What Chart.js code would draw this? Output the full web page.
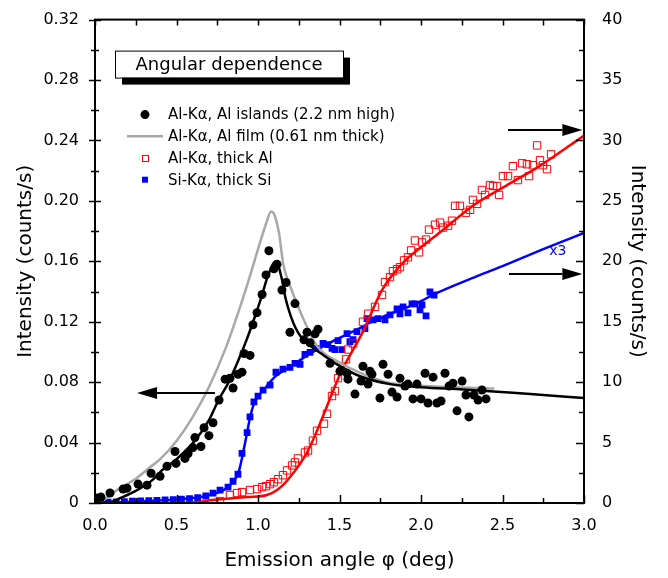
<!DOCTYPE html>
<html>
<head>
<meta charset="utf-8">
<script src="https://cdn.jsdelivr.net/npm/chart.js@4.4.1/dist/chart.umd.min.js"></script>
<style>
  html, body { margin: 0; padding: 0; background: #fff; }
  #wrap { width: 668px; height: 578px; }
</style>
</head>
<body>
<div id="wrap"><canvas id="angChart" width="668" height="578"></canvas></div>
<script>
// emission angle (deg) vs intensity, [x, y] pairs

// Al-Kα, Al islands (2.2 nm high) - left axis (counts/s)
var alIslands = [
  [0.012,0.0033],[0.037,0.0039],[0.092,0.0066],[0.172,0.0092],[0.196,0.0098],[0.264,0.0125],
  [0.319,0.0118],[0.344,0.0197],[0.399,0.0177],[0.442,0.0243],[0.491,0.0341],[0.497,0.0262],
  [0.552,0.0295],[0.571,0.0328],[0.601,0.0367],[0.613,0.0433],[0.650,0.0374],[0.669,0.0498],
  [0.699,0.0446],[0.724,0.0531],[0.761,0.0682],[0.798,0.0820],[0.828,0.0826],[0.847,0.0761],
  [0.877,0.0852],[0.902,0.0866],[0.914,0.0990],[0.951,0.0977],[0.969,0.118],[0.994,0.126],
  [1.025,0.138],[1.049,0.151],[1.067,0.167],[1.098,0.155],[1.117,0.158],[1.147,0.141],
  [1.172,0.146],[1.196,0.113],[1.227,0.132],[1.282,0.108],[1.301,0.113],[1.319,0.106],
  [1.350,0.112],[1.368,0.115],[1.442,0.0925],[1.503,0.0872],[1.546,0.0859],[1.552,0.0820],
  [1.595,0.0721],[1.632,0.0807],[1.644,0.0905],[1.675,0.0787],[1.687,0.0872],[1.699,0.0852],
  [1.748,0.0695],[1.767,0.0918],[1.798,0.0852],[1.822,0.0734],[1.853,0.0702],[1.871,0.0826],
  [1.902,0.0774],[1.920,0.0787],[1.951,0.0689],[1.975,0.0787],[2.000,0.0689],[2.025,0.0859],
  [2.043,0.0662],[2.074,0.0833],[2.098,0.0662],[2.123,0.0675],[2.147,0.0859],[2.172,0.0774],
  [2.196,0.0793],[2.221,0.0610],[2.252,0.0807],[2.276,0.0715],[2.294,0.0570],[2.325,0.0715],
  [2.350,0.0682],[2.374,0.0748],[2.399,0.0689]
];
var alIslandsFit = [
  [0,0],[0.1,0.0008],[0.15,0.003],[0.25,0.008],[0.35,0.015],[0.41,0.0216],[0.5,0.029],
  [0.613,0.0413],[0.7,0.055],[0.755,0.0675],[0.82,0.080],[0.877,0.0938],[0.93,0.108],
  [0.97,0.120],[1.02,0.136],[1.06,0.150],[1.11,0.160],[1.147,0.148],[1.17,0.135],
  [1.2,0.124],[1.23,0.116],[1.27,0.109],[1.32,0.104],[1.4,0.098],[1.485,0.0918],
  [1.626,0.0839],[1.81,0.0787],[2.0,0.0767],[2.26,0.0752],[2.67,0.0721],[3.0,0.0695]
];
// Al-Kα, Al film (0.61 nm thick) - left axis
var alFilm = [
  [0,0],[0.031,0.0007],[0.135,0.0085],[0.25,0.016],[0.337,0.0236],[0.4,0.029],[0.5,0.041],
  [0.6,0.057],[0.7,0.077],[0.8,0.102],[0.9,0.133],[0.95,0.150],[1.0,0.168],[1.05,0.185],
  [1.08,0.193],[1.1,0.191],[1.13,0.178],[1.155,0.158],[1.196,0.144],[1.258,0.127],
  [1.362,0.104],[1.5,0.093],[1.65,0.0852],[1.8,0.0797],[2.0,0.0777],[2.45,0.0758]
];
// Al-Kα, thick Al - right axis
var thickAl = [
  [0.767,0.16],[0.828,0.66],[0.871,0.82],[0.902,0.90],[0.951,1.07],[0.994,1.15],[1.025,1.31],
  [1.049,1.39],[1.074,1.56],[1.098,1.72],[1.123,1.97],[1.153,2.30],[1.178,2.70],[1.209,3.11],
  [1.227,3.36],[1.245,3.69],[1.288,4.18],[1.307,4.34],[1.337,5.16],[1.362,5.98],[1.405,6.56],
  [1.423,7.38],[1.454,8.85],[1.472,9.26],[1.491,10.33],[1.540,11.89],[1.552,12.70],[1.583,13.20],
  [1.644,15.00],[1.675,15.66],[1.718,16.23],[1.761,17.21],[1.779,18.28],[1.810,18.69],
  [1.828,19.18],[1.853,19.34],[1.871,19.51],[1.896,20.08],[1.920,20.33],[1.939,20.90],
  [1.963,21.72],[1.988,20.74],[2.006,21.56],[2.031,21.80],[2.049,22.62],[2.086,23.03],
  [2.117,23.20],[2.135,22.79],[2.166,22.95],[2.190,23.36],[2.209,24.59],[2.239,24.59],
  [2.276,24.02],[2.301,24.26],[2.319,25.08],[2.344,24.75],[2.374,25.90],[2.393,25.49],
  [2.423,26.31],[2.442,26.23],[2.466,26.23],[2.479,25.49],[2.503,27.05],[2.534,27.05],
  [2.564,27.87],[2.595,26.72],[2.620,28.11],[2.650,28.03],[2.663,27.05],[2.687,27.95],
  [2.712,29.59],[2.730,28.36],[2.748,27.95],[2.773,27.62],[2.798,28.85]
];
var thickAlFit = [
  [0.5,0],[0.626,0.08],[0.724,0.25],[0.933,0.49],[1.055,0.66],[1.117,1.07],[1.196,2.13],
  [1.301,4.18],[1.38,6.56],[1.485,10.08],[1.521,11.15],[1.644,14.18],[1.76,17.6],[1.87,19.6],
  [1.975,20.9],[2.117,22.4],[2.319,24.6],[2.528,26.3],[2.73,27.9],[3.0,30.4]
];
// Si-Kα, thick Si - right axis
var thickSi = [
  [0.03,0.05],[0.08,0.08],[0.13,0.10],[0.18,0.12],[0.23,0.15],[0.28,0.17],[0.33,0.20],
  [0.38,0.22],[0.43,0.25],[0.48,0.28],[0.53,0.32],[0.58,0.37],[0.63,0.45],[0.68,0.58],
  [0.724,0.82],[0.767,1.07],[0.816,1.31],[0.847,1.80],[0.877,2.38],[0.902,4.10],[0.933,5.82],
  [0.951,7.13],[0.975,8.36],[1.000,8.85],[1.031,9.34],[1.074,9.75],[1.110,10.82],[1.153,11.07],
  [1.196,11.23],[1.227,11.56],[1.258,11.48],[1.288,12.30],[1.319,12.46],[1.356,12.79],
  [1.399,13.20],[1.429,13.11],[1.454,12.79],[1.472,12.70],[1.491,13.44],[1.515,12.70],
  [1.546,14.02],[1.564,13.36],[1.583,13.52],[1.607,14.18],[1.656,14.43],[1.669,15.25],
  [1.706,15.16],[1.736,15.25],[1.779,15.16],[1.810,15.57],[1.853,16.07],[1.871,15.66],
  [1.890,16.23],[1.920,15.74],[1.945,16.48],[1.963,16.48],[1.994,15.98],[2.006,16.39],
  [2.031,15.49],[2.055,17.46],[2.080,17.21]
];
var thickSiFit = [
  [0,0],[0.3,0.15],[0.5,0.3],[0.65,0.5],[0.75,0.85],[0.8,1.15],[0.85,1.8],[0.88,2.5],
  [0.9,3.6],[0.93,5.6],[0.95,7.0],[0.975,8.2],[1.0,8.8],[1.05,9.6],[1.1,10.4],[1.15,10.9],
  [1.2,11.3],[1.3,12.2],[1.4,12.95],[1.46,13.4],[1.6,14.3],[1.7,15.0],[1.8,15.6],[1.9,16.1],
  [2.0,16.7],[2.07,17.2],[2.36,18.85],[2.5,19.6],[2.75,21.0],[3.0,22.35]
];

// arrows telling which axis belongs to which curve: [from x, to x, at y, axis]
var axisArrows = [[0.736, 0.258, 0.0728, 'y'], [2.534, 2.99, 30.9, 'y2'], [2.54, 2.99, 18.93, 'y2']];

var FONT = 'DejaVu Sans';

function pts(arr) {
  return arr.map(function (p) { return { x: p[0], y: p[1] }; });
}

function drawArrow(ctx, x0, x1, y) {
  var dir = x1 > x0 ? 1 : -1;
  var head = 20;
  ctx.strokeStyle = '#000';
  ctx.lineWidth = 2;
  ctx.beginPath();
  ctx.moveTo(x0, y);
  ctx.lineTo(x1 - dir * head, y);
  ctx.stroke();
  ctx.fillStyle = '#000';
  ctx.beginPath();
  ctx.moveTo(x1, y);
  ctx.lineTo(x1 - dir * head, y - 6);
  ctx.lineTo(x1 - dir * head, y + 6);
  ctx.closePath();
  ctx.fill();
}

var framePlugin = {
  id: 'frame',
  afterDraw: function (chart) {
    var ctx = chart.ctx, a = chart.chartArea;
    var sx = chart.scales.x, sy = chart.scales.y, sy2 = chart.scales.y2;
    ctx.save();
    ctx.strokeStyle = '#000';
    ctx.lineWidth = 2;
    ctx.strokeRect(a.left, a.top, a.right - a.left, a.bottom - a.top);

    ctx.lineWidth = 1.5;
    ctx.beginPath();
    var v, p, len;
    for (v = 0; v <= 3.0001; v += 0.25) {
      p = Math.round(sx.getPixelForValue(v)) + 0.5;
      len = (Math.round(v * 4) % 2 === 0) ? 8 : 5;
      ctx.moveTo(p, a.bottom); ctx.lineTo(p, a.bottom - len);
      ctx.moveTo(p, a.top); ctx.lineTo(p, a.top + 6);
    }
    for (v = 0; v <= 0.3201; v += 0.02) {
      p = Math.round(sy.getPixelForValue(v)) + 0.5;
      len = (Math.round(v * 50) % 2 === 0) ? 6 : 4;
      ctx.moveTo(a.left - len, p); ctx.lineTo(a.left + len, p);
    }
    for (v = 0; v <= 40.001; v += 2.5) {
      p = Math.round(sy2.getPixelForValue(v)) + 0.5;
      len = (Math.round(v * 2) % 2 === 0) ? 8 : 5;
      ctx.moveTo(a.right, p); ctx.lineTo(a.right - len, p);
    }
    ctx.stroke();

    // arrows
    axisArrows.forEach(function (ar) {
      var sc = chart.scales[ar[3]];
      drawArrow(ctx, sx.getPixelForValue(ar[0]), sx.getPixelForValue(ar[1]), Math.round(sc.getPixelForValue(ar[2])));
    });

    // x3 note on the Si curve
    ctx.fillStyle = '#0000ff';
    ctx.font = '14px "' + FONT + '"';
    ctx.textAlign = 'center';
    ctx.textBaseline = 'middle';
    ctx.fillText('x3', sx.getPixelForValue(2.84), sy2.getPixelForValue(20.8));

    // title box with shadow
    var bx = a.left + 20, by = a.top + 31, bw = 228, bh = 27;
    ctx.fillStyle = '#000';
    ctx.fillRect(bx + 7, by + 7, bw, bh);
    ctx.fillStyle = '#fff';
    ctx.fillRect(bx, by, bw, bh);
    ctx.strokeStyle = '#000';
    ctx.lineWidth = 1;
    ctx.strokeRect(bx + 0.5, by + 0.5, bw, bh);
    ctx.fillStyle = '#000';
    ctx.font = '18px "' + FONT + '"';
    ctx.fillText('Angular dependence', bx + bw / 2, by + bh / 2 + 1);

    // legend
    var rows = [0, 2, 3, 5];
    var lx = a.left + 50, ty = a.top + 95;
    ctx.font = '15px "' + FONT + '"';
    ctx.textAlign = 'left';
    rows.forEach(function (idx, i) {
      var ds = chart.data.datasets[idx];
      var y = ty + i * 21.7;
      if (ds.showLine) {
        ctx.strokeStyle = ds.borderColor;
        ctx.lineWidth = ds.borderWidth;
        ctx.beginPath();
        ctx.moveTo(lx - 18, y); ctx.lineTo(lx + 18, y);
        ctx.stroke();
      } else if (ds.pointStyle === 'circle') {
        ctx.fillStyle = ds.backgroundColor;
        ctx.beginPath();
        ctx.arc(lx, y, 4.5, 0, Math.PI * 2);
        ctx.fill();
      } else if (ds.backgroundColor !== 'transparent') {
        ctx.fillStyle = ds.backgroundColor;
        ctx.fillRect(lx - 3, y - 3, 6, 6);
      } else {
        ctx.strokeStyle = ds.borderColor;
        ctx.lineWidth = 1;
        ctx.strokeRect(lx - 2.5, y - 2.5, 6, 6);
      }
      ctx.fillStyle = '#000';
      ctx.fillText(ds.label, lx + 23, y + 1);
    });
    ctx.restore();
  }
};

var ctx = document.getElementById('angChart').getContext('2d');
new Chart(ctx, {
  type: 'scatter',
  data: {
    datasets: [
      { label: 'Al-K\u03b1, Al islands (2.2 nm high)', data: pts(alIslands), yAxisID: 'y', showLine: false,
        pointStyle: 'circle', pointRadius: 4.5, backgroundColor: '#000', borderColor: '#000', borderWidth: 0, order: 1 },
      { label: 'islands fit', data: pts(alIslandsFit), yAxisID: 'y', showLine: true, pointRadius: 0,
        borderColor: '#000', borderWidth: 2.5, cubicInterpolationMode: 'monotone', order: 2 },
      { label: 'Al-K\u03b1, Al film (0.61 nm thick)', data: pts(alFilm), yAxisID: 'y', showLine: true, pointRadius: 0,
        borderColor: '#a8a8a8', borderWidth: 2.5, cubicInterpolationMode: 'monotone', order: 3 },
      { label: 'Al-K\u03b1, thick Al', data: pts(thickAl), yAxisID: 'y2', showLine: false,
        pointStyle: 'rect', pointRadius: 5.2, backgroundColor: 'transparent', borderColor: '#ff0000', borderWidth: 1, order: 5 },
      { label: 'thick Al fit', data: pts(thickAlFit), yAxisID: 'y2', showLine: true, pointRadius: 0,
        borderColor: '#ff0000', borderWidth: 2.5, cubicInterpolationMode: 'monotone', order: 4 },
      { label: 'Si-K\u03b1, thick Si', data: pts(thickSi), yAxisID: 'y2', showLine: false,
        pointStyle: 'rect', pointRadius: 4.8, backgroundColor: '#0000ff', borderColor: '#0000ff', borderWidth: 0, order: 7 },
      { label: 'thick Si fit', data: pts(thickSiFit), yAxisID: 'y2', showLine: true, pointRadius: 0,
        borderColor: '#0000ff', borderWidth: 2.5, cubicInterpolationMode: 'monotone', order: 6 }
    ]
  },
  options: {
    responsive: false,
    animation: false,
    events: [],
    layout: { padding: { top: 15, left: 0, right: 0, bottom: 0 } },
    plugins: { legend: { display: false }, tooltip: { enabled: false } },
    scales: {
      x: {
        type: 'linear', position: 'bottom', min: 0, max: 3,
        grid: { display: false }, border: { display: false },
        ticks: { stepSize: 0.5, color: '#000', padding: 5, font: { family: FONT, size: 16 },
          callback: function (v) { return v.toFixed(1); } },
        title: { display: true, text: 'Emission angle \u03c6 (deg)', color: '#000',
          font: { family: FONT, size: 20 }, padding: { top: 0, bottom: 5 } },
        afterFit: function (s) { s.height = 75; }
      },
      y: {
        type: 'linear', position: 'left', min: 0, max: 0.32,
        grid: { display: false }, border: { display: false },
        ticks: { stepSize: 0.04, color: '#000', padding: 8, font: { family: FONT, size: 16 },
          callback: function (v) { return v === 0 ? '0' : v.toFixed(2); } },
        title: { display: true, text: 'Intensity (counts/s)', color: '#000',
          font: { family: FONT, size: 20 }, padding: { top: 14, bottom: 0 } },
        afterFit: function (s) { s.width = 95; }
      },
      y2: {
        type: 'linear', position: 'right', min: 0, max: 40,
        grid: { display: false }, border: { display: false },
        ticks: { stepSize: 5, color: '#000', padding: 10, font: { family: FONT, size: 16 } },
        title: { display: true, text: 'Intensity (counts/s)', color: '#000',
          font: { family: FONT, size: 20 }, padding: { top: 19, bottom: 0 } },
        afterFit: function (s) { s.width = 84; }
      }
    }
  },
  plugins: [framePlugin]
});
</script>
</body>
</html>
